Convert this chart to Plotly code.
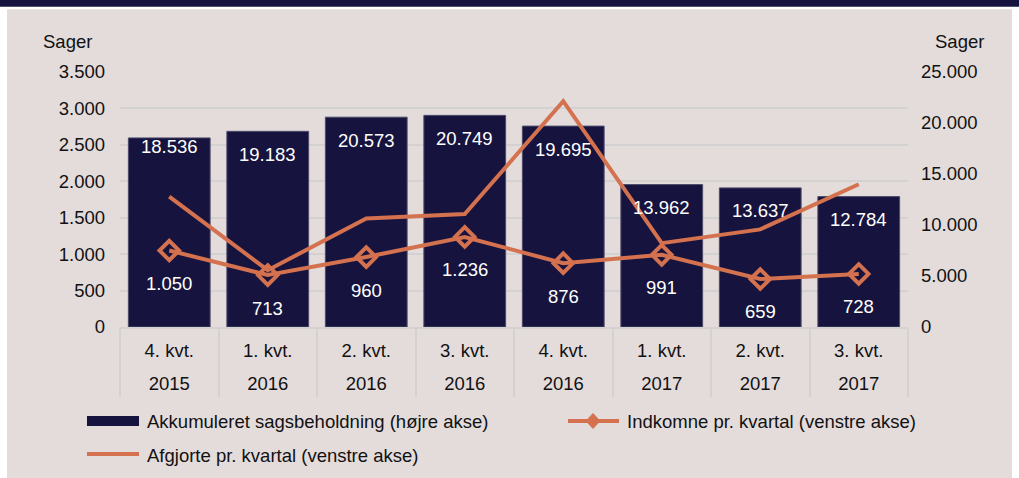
import plotly.graph_objects as go

# ---------------- data ----------------
quarters = ["4. kvt.", "1. kvt.", "2. kvt.", "3. kvt.", "4. kvt.", "1. kvt.", "2. kvt.", "3. kvt."]
years = ["2015", "2016", "2016", "2016", "2016", "2017", "2017", "2017"]
beholdning = [18536, 19183, 20573, 20749, 19695, 13962, 13637, 12784]
indkomne = [1050, 713, 960, 1236, 876, 991, 659, 728]
afgjorte = [1790, 780, 1490, 1550, 3100, 1150, 1340, 1960]

name_bar = "Akkumuleret sagsbeholdning (højre akse)"
name_ind = "Indkomne pr. kvartal (venstre akse)"
name_afg = "Afgjorte pr. kvartal (venstre akse)"

# ---------------- style ----------------
NAVY = "#16143e"
ORANGE = "#d4714f"
BG = "#e4dcdb"
GRID = "#d3d1d1"
TXT = "#111111"
FAMILY = "Liberation Sans"
FONT = "Liberation Sans, Arial, sans-serif"
FS = 18.5
bar_label_shift = [-9, -23, -23, -23, -23, -23, -23, -23]

W, H = 1019, 478
L, R, T, B = 120, 908, 72, 327


def px(x):
    return (x - L) / (R - L)


def py(y):
    return (B - y) / (B - T)


def fmt(v):
    return f"{v:,}".replace(",", ".")


cats = [f"{q} {y}" for q, y in zip(quarters, years)]
span = f"font-size:{FS}px;font-family:{FAMILY}"
ticktext = [
    f"<span style='{span}'>{q}</span><br><span style='{span}'>{y}</span>"
    for q, y in zip(quarters, years)
]

fig = go.Figure()
fig.add_trace(go.Bar(
    x=cats, y=beholdning, yaxis="y", name=name_bar,
    marker=dict(color=NAVY, line=dict(color="#4d4b6a", width=1)),
    width=0.83, showlegend=False,
))
fig.add_trace(go.Scatter(
    x=cats, y=afgjorte, yaxis="y2", mode="lines", name=name_afg,
    line=dict(color=ORANGE, width=4), showlegend=False,
))
fig.add_trace(go.Scatter(
    x=cats, y=indkomne, yaxis="y2", mode="lines+markers", name=name_ind,
    line=dict(color=ORANGE, width=4),
    marker=dict(symbol="diamond-open", size=15, color=ORANGE, line=dict(color=ORANGE, width=4)),
    showlegend=False,
))

annotations = []
for c, v, s in zip(cats, beholdning, bar_label_shift):
    annotations.append(dict(x=c, y=v, xref="x", yref="y", text=fmt(v), showarrow=False,
                            yshift=s, font=dict(color="white", size=FS, family=FONT)))
for c, v in zip(cats, indkomne):
    annotations.append(dict(x=c, y=v, xref="x", yref="y2", text=fmt(v), showarrow=False,
                            yshift=-33, font=dict(color="white", size=FS, family=FONT)))
# axis titles
for xx in (67, 959):
    annotations.append(dict(x=px(xx), y=py(41), xref="paper", yref="paper", text="Sager",
                            xanchor="center", yanchor="middle", showarrow=False,
                            font=dict(size=FS, color=TXT, family=FONT)))
# legend texts
for tx, xx, yy in [(name_bar, 145, 421), (name_ind, 625, 421), (name_afg, 145, 455)]:
    annotations.append(dict(x=px(xx), y=py(yy), xref="paper", yref="paper", text=tx,
                            xanchor="left", yanchor="middle", showarrow=False,
                            font=dict(size=FS, color=TXT, family=FONT)))

shapes = [
    # background panel and top rule
    dict(type="rect", xref="paper", yref="paper", x0=px(7), x1=px(1012), y0=py(9.3), y1=py(478),
         fillcolor=BG, line=dict(width=0), layer="below"),
    dict(type="rect", xref="paper", yref="paper", x0=px(0), x1=px(W), y0=py(0), y1=py(6.7),
         fillcolor=NAVY, line=dict(width=0), layer="below"),
    # legend symbols
    dict(type="rect", xref="paper", yref="paper", x0=px(87), x1=px(139), y0=py(426), y1=py(416),
         fillcolor=NAVY, line=dict(width=0)),
    dict(type="line", xref="paper", yref="paper", x0=px(568), x1=px(619), y0=py(421), y1=py(421),
         line=dict(color=ORANGE, width=4)),
    dict(type="path", xref="paper", yref="paper",
         path=f"M {px(586)} {py(421)} L {px(593)} {py(413.5)} L {px(600)} {py(421)} L {px(593)} {py(428.5)} Z",
         fillcolor=ORANGE, line=dict(color=ORANGE, width=1)),
    dict(type="line", xref="paper", yref="paper", x0=px(87), x1=px(139), y0=py(454), y1=py(454),
         line=dict(color=ORANGE, width=4)),
]

fig.update_layout(
    width=W, height=H,
    margin=dict(l=L, r=W - R, t=T, b=H - B, pad=0),
    paper_bgcolor="white", plot_bgcolor="rgba(0,0,0,0)",
    separators=",.",
    font=dict(family=FONT, size=FS, color=TXT),
    showlegend=False,
    bargap=0.17,
    xaxis=dict(
        type="category", range=[-0.5, len(cats) - 0.5],
        tickmode="array", tickvals=cats, ticktext=ticktext,
        tickfont=dict(size=25.4, color=TXT, family=FONT),
        ticks="outside", tickson="boundaries", ticklen=68, tickwidth=1.5, tickcolor=GRID,
        ticklabelstandoff=-2,
        showline=True, linecolor=GRID, linewidth=1.5,
        showgrid=False, zeroline=False, fixedrange=True,
    ),
    yaxis=dict(
        side="right", range=[0, 25000], dtick=5000, tickformat=",d",
        showgrid=False, zeroline=False, ticks="", fixedrange=True,
        tickfont=dict(size=FS, color=TXT, family=FONT), ticklabelstandoff=12,
    ),
    yaxis2=dict(
        overlaying="y", side="left", range=[0, 3500], dtick=500, tickformat=",d",
        showgrid=True, gridcolor=GRID, gridwidth=1.5, zeroline=False, ticks="", fixedrange=True,
        tickfont=dict(size=FS, color=TXT, family=FONT), ticklabelstandoff=14,
    ),
    annotations=annotations,
    shapes=shapes,
)

fig.write_html("out.html", config={"displayModeBar": False},
               post_script="document.body.style.margin='0';")
